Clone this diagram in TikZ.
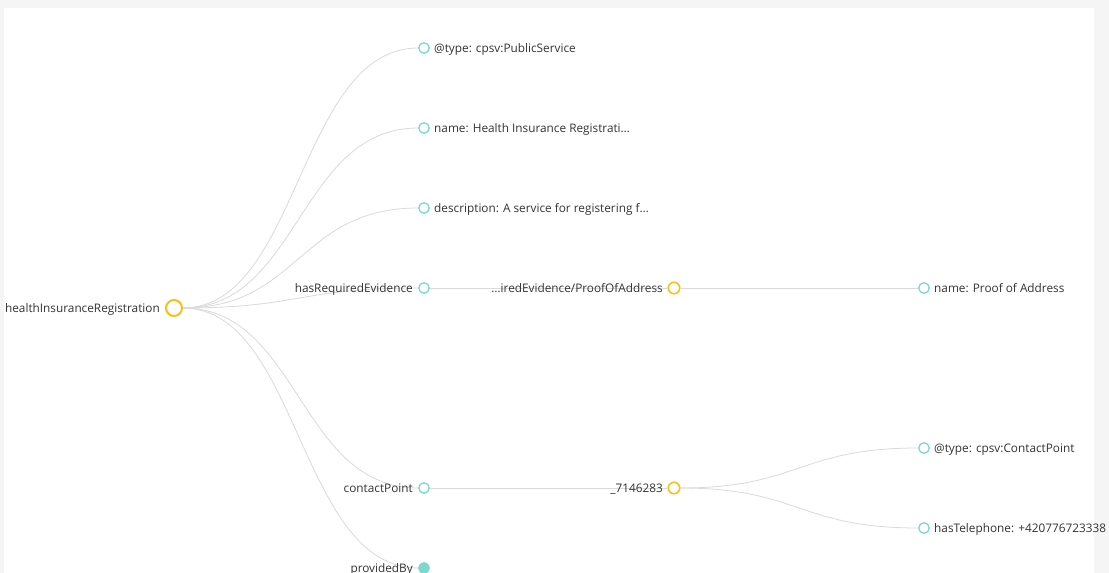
\documentclass[tikz,border=0pt]{standalone}
\usepackage{fontspec}
\setmainfont{Open Sans}
\usetikzlibrary{calc,backgrounds}
\definecolor{bgc}{HTML}{F5F5F5}
\definecolor{yel}{HTML}{F4C21A}
\definecolor{tea}{HTML}{7CD8CF}
\definecolor{lnk}{HTML}{DADADA}
\definecolor{txt}{HTML}{333333}
\tikzset{
  rootnode/.style={circle,draw=yel,line width=2pt,fill=white,minimum size=16pt,inner sep=0pt},
  hubnode/.style={circle,draw=yel,line width=1.6pt,fill=white,minimum size=11.5pt,inner sep=0pt},
  leafnode/.style={circle,draw=tea,line width=1.3pt,fill=white,minimum size=10.5pt,inner sep=0pt},
  fullnode/.style={circle,draw=tea,line width=1.3pt,fill=tea,minimum size=10.5pt,inner sep=0pt},
  lbl/.style={inner sep=0pt,text=txt,font=\fontsize{11.8pt}{14pt}\selectfont},
  lblL/.style={lbl,anchor=base east},
  lblR/.style={lbl,anchor=base west},
  link/.style={draw=lnk,line width=0.8pt}
}
\newcommand\dlink[2]{%
  \path let \p1=(#1.center), \p2=(#2.center) in
    [link] (#1) .. controls ({(\x1+\x2)/2},\y1) and ({(\x1+\x2)/2},\y2) .. (#2);}
\begin{document}
\begin{tikzpicture}[x=1pt,y=-1pt]
\useasboundingbox (0,0) rectangle (1109,573);
% nodes
\node[rootnode] (r) at (174,308) {};
\node[leafnode] (c1) at (424,48) {};
\node[leafnode] (c2) at (424,128) {};
\node[leafnode] (c3) at (424,208) {};
\node[leafnode] (c4) at (424,288) {};
\node[leafnode] (c5) at (424,488) {};
\node[fullnode] (c6) at (424,568) {};
\node[hubnode] (h1) at (674,288) {};
\node[hubnode] (h2) at (674,488) {};
\node[leafnode] (d1) at (924,288) {};
\node[leafnode] (d2) at (924,448) {};
\node[leafnode] (d3) at (924,528) {};
% labels
\node[lblL] (tr) at (160,312) {healthInsuranceRegistration};
\node[lblR] (t1) at (434,52) {@type: cpsv:PublicService};
\node[lblR] (t2) at (434,132) {name: Health Insurance Registrati…};
\node[lblR] (t3) at (434,212) {description: A service for registering f…};
\node[lblL] (t4) at (413,292) {hasRequiredEvidence};
\node[lblL] (t5) at (413,492) {contactPoint};
\node[lblL] (t6) at (413,572) {providedBy};
\node[lblL] (th1) at (663,292) {…iredEvidence/ProofOfAddress};
\node[lblL] (th2) at (663,492) {\_7146283};
\node[lblR] (td1) at (934,292) {name: Proof of Address};
\node[lblR] (td2) at (934,452) {@type: cpsv:ContactPoint};
\node[lblR] (td3) at (934,532) {hasTelephone: +420776723338};
% background and links
\begin{scope}[on background layer]
\fill[bgc] (0,0) rectangle (1109,573);
\fill[white] (4,8) rectangle (1094,573);
\dlink{r}{c1}
\dlink{r}{c2}
\dlink{r}{c3}
\dlink{r}{c4}
\dlink{r}{c5}
\dlink{r}{c6}
\draw[link] (c4) -- (h1);
\draw[link] (h1) -- (d1);
\draw[link] (c5) -- (h2);
\dlink{h2}{d2}
\dlink{h2}{d3}
\end{scope}
\end{tikzpicture}
\end{document}
